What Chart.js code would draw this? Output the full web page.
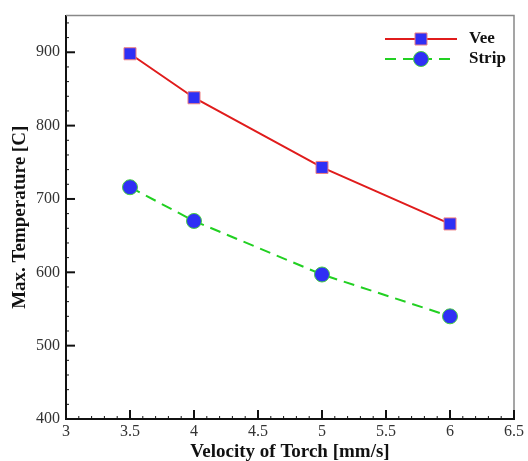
<!DOCTYPE html>
<html>
<head>
<meta charset="utf-8">
<script src="https://cdn.jsdelivr.net/npm/chart.js@4"></script>
<style>
  html, body { margin: 0; padding: 0; background: #fff; }
  #wrap { width: 528px; height: 461px; }
</style>
</head>
<body>
<div id="wrap"><canvas id="chart" width="528" height="461"></canvas></div>
<script>
const velocity = [3.5, 4, 5, 6];
const veeTemp = [898, 838, 743, 666];
const stripTemp = [716, 670, 597, 540];
const xTicks = [3, 3.5, 4, 4.5, 5, 5.5, 6, 6.5];
const yTicks = [400, 500, 600, 700, 800, 900];

const serif = '"Liberation Serif", "DejaVu Serif", serif';

// inward ticks, grey top/right frame and the legend
const framePlugin = {
    id: 'frame',
    afterDraw(chart) {
        const ctx = chart.ctx;
        const area = chart.chartArea;
        const xs = chart.scales.x;
        const ys = chart.scales.y;
        ctx.save();

        ctx.strokeStyle = '#888';
        ctx.lineWidth = 1.5;
        ctx.beginPath();
        ctx.moveTo(area.left, area.top);
        ctx.lineTo(area.right, area.top);
        ctx.lineTo(area.right, area.bottom);
        ctx.stroke();

        ctx.strokeStyle = '#111';
        // x ticks
        for (let v = 30; v <= 65; v++) {
            const px = xs.getPixelForValue(v / 10);
            const major = v % 5 === 0;
            ctx.lineWidth = major ? 2 : 1;
            ctx.beginPath();
            ctx.moveTo(px, area.bottom);
            ctx.lineTo(px, area.bottom - (major ? 9 : 3));
            ctx.stroke();
        }
        // y ticks
        for (let v = 400; v <= 940; v += 20) {
            const py = ys.getPixelForValue(v);
            const major = v % 100 === 0;
            ctx.lineWidth = major ? 2 : 1;
            ctx.beginPath();
            ctx.moveTo(area.left, py);
            ctx.lineTo(area.left + (major ? 9 : 3), py);
            ctx.stroke();
        }

        // legend
        const items = [
            { label: 'Vee', ds: chart.data.datasets[0], y: 39 },
            { label: 'Strip', ds: chart.data.datasets[1], y: 59 }
        ];
        items.forEach(it => {
            ctx.strokeStyle = it.ds.borderColor;
            ctx.lineWidth = it.ds.borderWidth;
            ctx.setLineDash(it.ds.borderDash || []);
            ctx.beginPath();
            ctx.moveTo(385, it.y);
            ctx.lineTo(457, it.y);
            ctx.stroke();
            ctx.setLineDash([]);
            ctx.fillStyle = it.ds.pointBackgroundColor;
            ctx.strokeStyle = it.ds.pointBorderColor;
            ctx.lineWidth = it.ds.pointBorderWidth;
            ctx.beginPath();
            if (it.ds.pointStyle === 'rect') {
                const s = it.ds.pointRadius * Math.SQRT1_2;
                ctx.rect(421 - s, it.y - s, 2 * s, 2 * s);
            } else {
                ctx.arc(421, it.y, it.ds.pointRadius, 0, Math.PI * 2);
            }
            ctx.fill();
            ctx.stroke();
            ctx.fillStyle = '#111';
            ctx.font = 'bold 17px ' + serif;
            ctx.textBaseline = 'middle';
            ctx.fillText(it.label, 469, it.y);
        });
        ctx.restore();
    }
};

new Chart(document.getElementById('chart'), {
    type: 'line',
    data: {
        datasets: [
            {
                label: 'Vee',
                data: velocity.map((v, i) => ({ x: v, y: veeTemp[i] })),
                borderColor: '#e01c1c',
                borderWidth: 2,
                pointStyle: 'rect',
                pointRadius: 8.5,
                pointBackgroundColor: '#2f2ff5',
                pointBorderColor: '#f08080',
                pointBorderWidth: 1
            },
            {
                label: 'Strip',
                data: velocity.map((v, i) => ({ x: v, y: stripTemp[i] })),
                borderColor: '#22d022',
                borderWidth: 2,
                borderDash: [11, 7],
                pointStyle: 'circle',
                pointRadius: 7.5,
                pointBackgroundColor: '#2f2ff5',
                pointBorderColor: '#44cc44',
                pointBorderWidth: 1
            }
        ]
    },
    options: {
        responsive: false,
        animation: false,
        layout: { padding: { top: 14, right: 14, left: 0, bottom: 0 } },
        plugins: {
            legend: { display: false },
            tooltip: { enabled: false }
        },
        scales: {
            x: {
                type: 'linear',
                min: 3,
                max: 6.5,
                afterFit(scale) { scale.height = 42; },
                afterBuildTicks(scale) { scale.ticks = xTicks.map(v => ({ value: v })); },
                grid: { display: false, drawTicks: false },
                border: { display: true, color: '#111', width: 2 },
                ticks: {
                    padding: 3,
                    color: '#333',
                    font: { family: serif, size: 16 },
                    callback: v => String(v)
                },
                title: {
                    display: true,
                    text: 'Velocity of Torch [mm/s]',
                    color: '#111',
                    font: { family: serif, size: 19, weight: 'bold' },
                    padding: { top: 0, bottom: -2 }
                }
            },
            y: {
                type: 'linear',
                min: 400,
                max: 950,
                afterFit(scale) { scale.width = 66; },
                afterBuildTicks(scale) { scale.ticks = yTicks.map(v => ({ value: v })); },
                grid: { display: false, drawTicks: false },
                border: { display: true, color: '#111', width: 2 },
                ticks: {
                    padding: 6,
                    color: '#333',
                    font: { family: serif, size: 16 }
                },
                title: {
                    display: true,
                    text: 'Max. Temperature [C]',
                    color: '#111',
                    font: { family: serif, size: 19, weight: 'bold' },
                    padding: { top: 9, bottom: 0 }
                }
            }
        }
    },
    plugins: [framePlugin]
});
</script>
</body>
</html>
